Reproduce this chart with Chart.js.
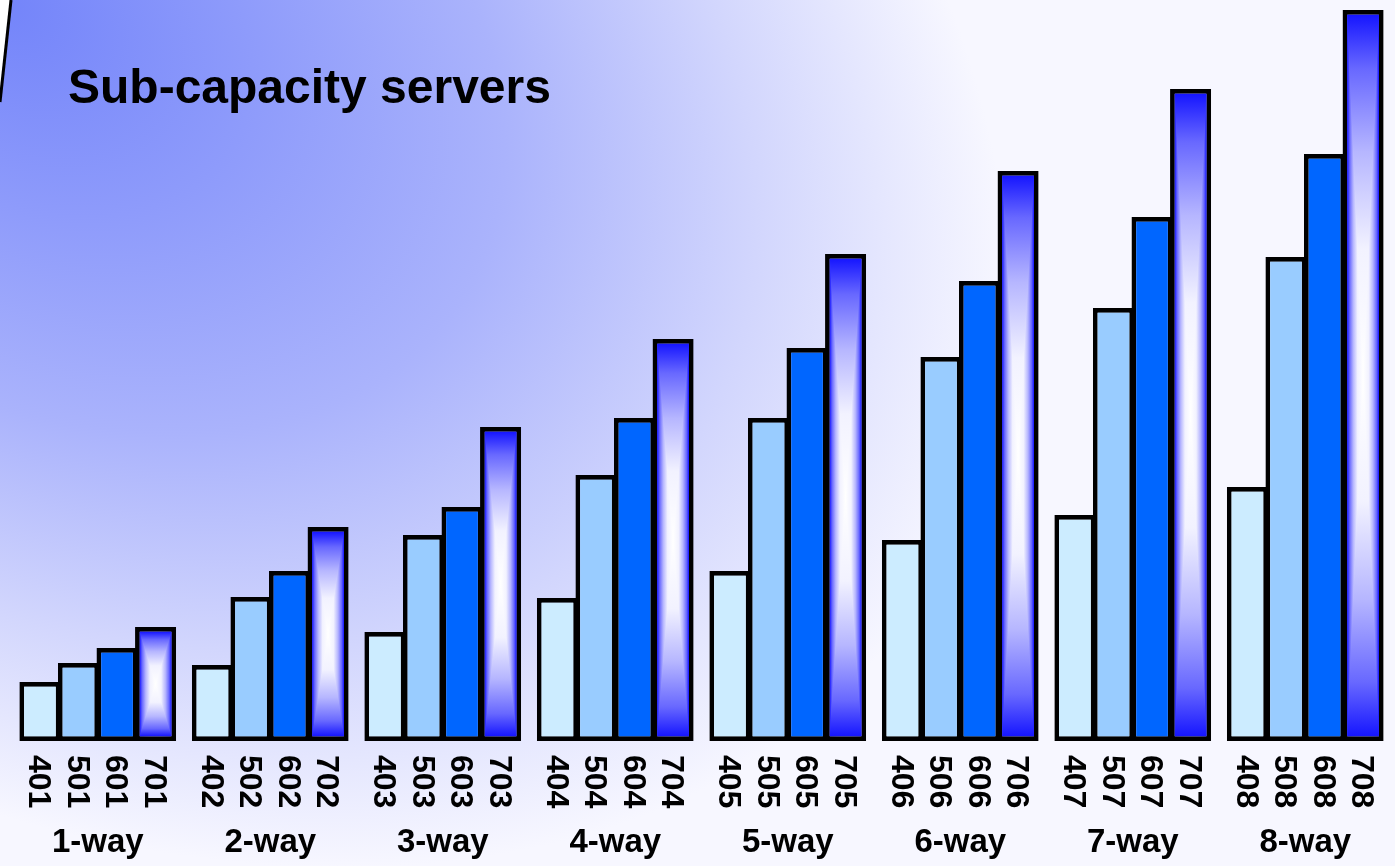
<!DOCTYPE html>
<html>
<head>
<meta charset="utf-8">
<title>Sub-capacity servers</title>
<script src="https://cdn.jsdelivr.net/npm/chart.js@4.4.1/dist/chart.umd.min.js"></script>
<style>
    html, body { margin: 0; padding: 0; background: #fff; }
    #wrap { width: 1395px; height: 866px; }
</style>
</head>
<body>
<div id="wrap"><canvas id="chartServers" width="1395" height="866"></canvas></div>
<script>
// Groups along the x axis (number of engines)
const groups = ['1-way', '2-way', '3-way', '4-way', '5-way', '6-way', '7-way', '8-way'];

// Model names, one list per capacity setting
const models4 = ['401', '402', '403', '404', '405', '406', '407', '408'];
const models5 = ['501', '502', '503', '504', '505', '506', '507', '508'];
const models6 = ['601', '602', '603', '604', '605', '606', '607', '608'];
const models7 = ['701', '702', '703', '704', '705', '706', '707', '708'];

// Relative capacity of each model
const cap4 = [59, 76, 109, 143, 170, 201, 226, 254];
const cap5 = [78, 144, 206, 266, 323, 384, 433, 484];
const cap6 = [93, 170, 234, 323, 393, 460, 524, 587];
const cap7 = [114, 214, 314, 402, 487, 570, 652, 731];

const FONT = '"Liberation Sans", Arial, Helvetica, sans-serif';
const BORDER = 4.7;

// Background wash, the frame line and the heading
const backdrop = {
    id: 'backdrop',
    beforeDraw(chart) {
        const ctx = chart.ctx;
        ctx.save();
        ctx.fillStyle = '#ffffff';
        ctx.fillRect(0, 0, chart.width, chart.height);

        ctx.beginPath();
        ctx.moveTo(11, 0);
        ctx.lineTo(chart.width, 0);
        ctx.lineTo(chart.width, chart.height);
        ctx.lineTo(0, chart.height);
        ctx.lineTo(0, 102);
        ctx.closePath();
        ctx.clip();

        ctx.save();
        ctx.rotate(33 * Math.PI / 180);
        ctx.scale(1, 0.68);
        const g = ctx.createRadialGradient(0, 0, 0, 0, 0, 1100);
        g.addColorStop(0, '#7384fa');
        g.addColorStop(0.25, '#8e9bfb');
        g.addColorStop(0.5, '#aab3fc');
        g.addColorStop(0.75, '#d2d6fd');
        g.addColorStop(1, '#f7f7ff');
        ctx.fillStyle = g;
        ctx.fillRect(-3000, -3000, 8000, 8000);
        ctx.restore();
        ctx.restore();

        ctx.save();
        ctx.strokeStyle = '#000';
        ctx.lineWidth = 3;
        ctx.beginPath();
        ctx.moveTo(11, 0);
        ctx.lineTo(0, 102);
        ctx.stroke();

        ctx.fillStyle = '#000';
        ctx.font = 'bold 48px ' + FONT;
        ctx.textAlign = 'left';
        ctx.textBaseline = 'alphabetic';
        ctx.fillText('Sub-capacity servers', 68, 103);
        ctx.restore();
    }
};

// 7xx bars: rectangular gradient, blue at the edges, white in the middle
const stops = [[0, '#ffffff'], [0.35, '#f2f2ff'], [0.62, '#b6b6ff'], [0.85, '#6868ff'], [1, '#1616ff']];

const barShade = {
    id: 'barShade',
    afterDatasetDraw(chart, args) {
        if (args.index !== 3) return;
        const ctx = chart.ctx;
        args.meta.data.forEach(bar => {
            const p = bar.getProps(['x', 'y', 'base', 'width'], true);
            const x0 = p.x - p.width / 2 + BORDER, x1 = p.x + p.width / 2 - BORDER;
            const y0 = p.y + BORDER, y1 = p.base - BORDER;
            const cx = (x0 + x1) / 2, cy = (y0 + y1) / 2;
            ctx.save();
            ctx.beginPath();
            ctx.rect(x0, y0, x1 - x0, y1 - y0);
            ctx.clip();

            const gh = ctx.createLinearGradient(x0, 0, x1, 0);
            stops.forEach(([t, c]) => {
                gh.addColorStop(0.5 - t / 2, c);
                gh.addColorStop(0.5 + t / 2, c);
            });
            ctx.fillStyle = gh;
            ctx.fillRect(x0, y0, x1 - x0, y1 - y0);

            const gt = ctx.createLinearGradient(0, cy, 0, y0);
            const gb = ctx.createLinearGradient(0, cy, 0, y1);
            stops.forEach(([t, c]) => { gt.addColorStop(t, c); gb.addColorStop(t, c); });
            ctx.fillStyle = gt;
            ctx.beginPath();
            ctx.moveTo(x0, y0); ctx.lineTo(x1, y0); ctx.lineTo(cx, cy); ctx.closePath();
            ctx.fill();
            ctx.fillStyle = gb;
            ctx.beginPath();
            ctx.moveTo(x0, y1); ctx.lineTo(x1, y1); ctx.lineTo(cx, cy); ctx.closePath();
            ctx.fill();
            ctx.restore();
        });
    }
};

// Model names written downwards under every bar
const modelLabels = {
    id: 'modelLabels',
    afterDraw(chart) {
        const ctx = chart.ctx;
        const names = [models4, models5, models6, models7];
        ctx.save();
        ctx.fillStyle = '#000';
        ctx.font = 'bold 32px ' + FONT;
        ctx.textAlign = 'left';
        ctx.textBaseline = 'middle';
        names.forEach((list, i) => {
            chart.getDatasetMeta(i).data.forEach((bar, j) => {
                const p = bar.getProps(['x', 'base'], true);
                ctx.save();
                ctx.translate(p.x - 2, p.base + 14);
                ctx.rotate(Math.PI / 2);
                ctx.fillText(list[j], 0, 0);
                ctx.restore();
            });
        });
        ctx.restore();
    }
};

function series(label, data, color) {
    return {
        label: label,
        data: data,
        backgroundColor: color,
        borderColor: '#000000',
        borderWidth: BORDER,
        borderSkipped: false,
        categoryPercentage: 0.894,
        barPercentage: 1.065
    };
}

const ctx = document.getElementById('chartServers').getContext('2d');
new Chart(ctx, {
    type: 'bar',
    data: {
        labels: groups,
        datasets: [
            series('4xx', cap4, '#ccecff'),
            series('5xx', cap5, '#99ccff'),
            series('6xx', cap6, '#0066ff'),
            series('7xx', cap7, '#1616ff')
        ]
    },
    options: {
        responsive: false,
        animation: false,
        layout: { padding: { left: 11.5, right: 3.5, top: 10, bottom: 0 } },
        plugins: {
            legend: { display: false },
            tooltip: { enabled: false },
            title: { display: false }
        },
        scales: {
            x: {
                // invisible tick marks push the group names below the model names
                grid: {
                    display: true,
                    drawOnChartArea: false,
                    drawTicks: true,
                    tickLength: 82,
                    color: 'rgba(0,0,0,0)'
                },
                border: { display: false },
                ticks: {
                    color: '#000',
                    font: { family: FONT, size: 33, weight: 'bold' },
                    padding: 0,
                    maxRotation: 0,
                    autoSkip: false
                },
                afterFit(scale) { scale.height = 125; }
            },
            y: {
                display: false,
                min: 0,
                max: 731
            }
        }
    },
    plugins: [backdrop, barShade, modelLabels]
});
</script>
</body>
</html>
